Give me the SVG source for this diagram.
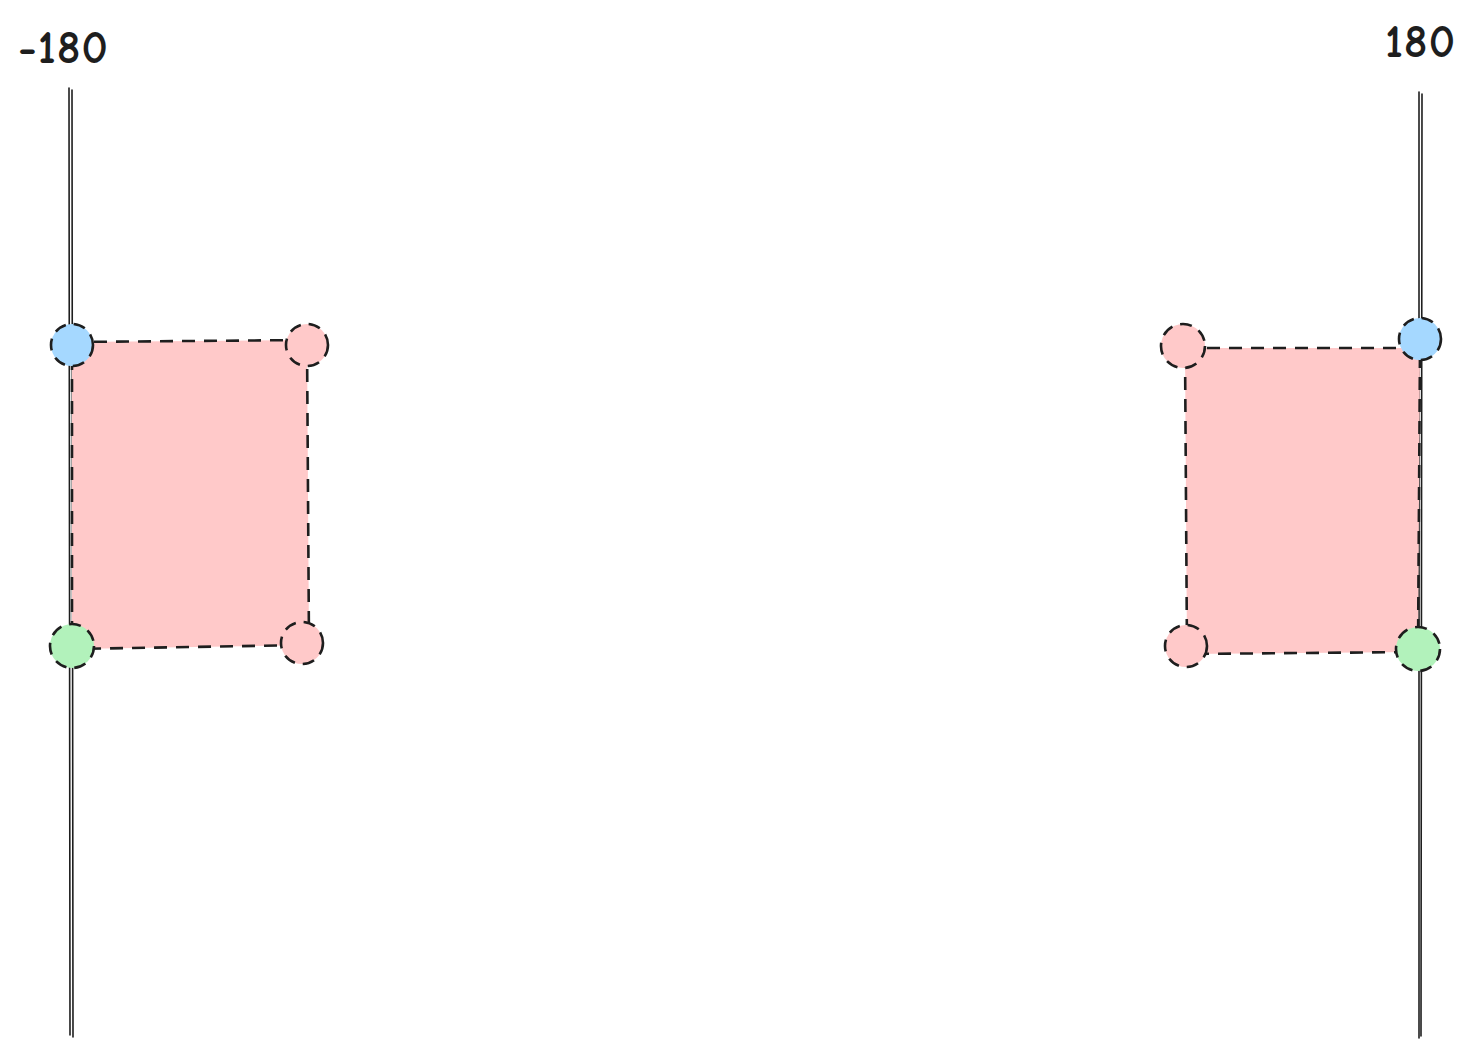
<svg xmlns="http://www.w3.org/2000/svg" width="1478" height="1060" viewBox="0 0 1478 1060">
<style>
.axis{stroke:#1e1e1e;stroke-width:1.6;fill:none;stroke-linecap:round}
.box{fill:#ffc9c9;stroke:#1e1e1e;stroke-width:2.6;stroke-dasharray:13 9;stroke-linejoin:round}
.dot{stroke:#1e1e1e;stroke-width:2.6;stroke-dasharray:12 8}
.pink{fill:#ffc9c9}
.blue{fill:#a5d8ff}
.green{fill:#b2f2bb}
.lbl{font-family:"Comic Neue","Liberation Sans",sans-serif;font-size:46px;fill:#1e1e1e;font-weight:bold;letter-spacing:1px}
</style>
<rect width="1478" height="1060" fill="#ffffff"/>
<g id="axis-left">
<path class="axis" d="M69 88 L70 1035"/>
<path class="axis" d="M72 90 L73 1037"/>
<text class="lbl" x="18" y="63">-180</text>
</g>
<g id="axis-right">
<path class="axis" d="M1419 92 L1419 1038"/>
<path class="axis" d="M1422 94 L1421 1036"/>
<text class="lbl" x="1385" y="57">180</text>
</g>
<g id="box-left">
<path class="box" d="M72 342 L307 340 L309 645 L72 649 Z"/>
</g>
<g id="box-right">
<path class="box" d="M1185 348 L1420 348 L1418 652 L1187 654 Z"/>
</g>
<g id="points-left">
<circle class="dot blue" cx="72" cy="345" r="21"/>
<circle class="dot pink" cx="307" cy="345" r="21"/>
<circle class="dot green" cx="72" cy="646" r="22"/>
<circle class="dot pink" cx="302" cy="643" r="21"/>
</g>
<g id="points-right">
<circle class="dot pink" cx="1183" cy="346" r="22"/>
<circle class="dot blue" cx="1420" cy="339" r="21"/>
<circle class="dot pink" cx="1186" cy="646" r="21"/>
<circle class="dot green" cx="1418" cy="649" r="22"/>
</g>
</svg>
